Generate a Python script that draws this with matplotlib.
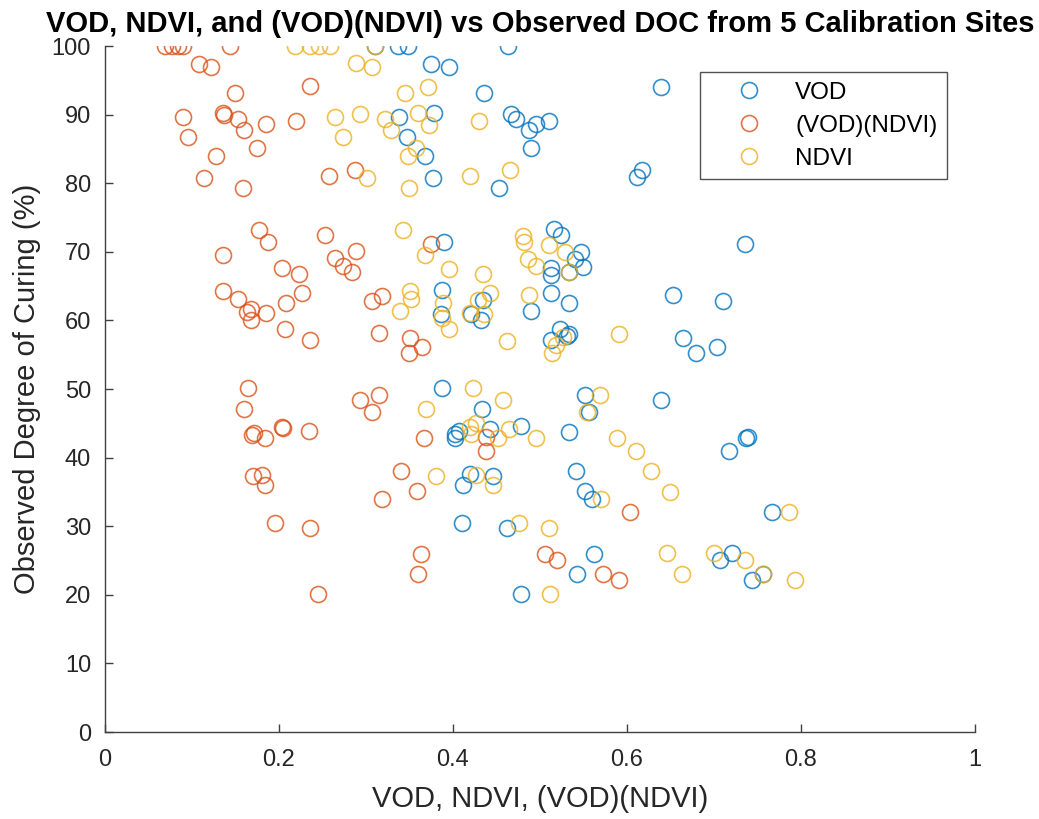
import matplotlib
matplotlib.use("Agg")
import matplotlib.pyplot as plt

# VOD (blue)
vod_x = [0.311, 0.337, 0.348, 0.463, 0.375, 0.395, 0.639, 0.436, 0.338, 0.378,
         0.467, 0.473, 0.487, 0.496, 0.511, 0.347, 0.490, 0.368, 0.377, 0.453,
         0.617, 0.612, 0.390, 0.516, 0.524, 0.736, 0.547, 0.540, 0.549, 0.513,
         0.513, 0.533, 0.388, 0.513, 0.653, 0.711, 0.534, 0.435, 0.421, 0.386,
         0.432, 0.490, 0.513, 0.523, 0.531, 0.534, 0.665, 0.679, 0.704, 0.387,
         0.434, 0.552, 0.556, 0.639, 0.402, 0.407, 0.402, 0.443, 0.478, 0.533,
         0.739, 0.737, 0.717, 0.420, 0.412, 0.446, 0.541, 0.552, 0.560, 0.767,
         0.411, 0.462, 0.562, 0.721, 0.707, 0.543, 0.757, 0.478, 0.744]
vod_y = [100, 100, 100, 100, 97.4, 96.9, 94.1, 93.1, 89.6, 90.2,
         90.1, 89.3, 87.8, 88.6, 89.1, 86.8, 85.1, 83.9, 80.7, 79.3,
         82.0, 80.9, 71.5, 73.3, 72.5, 71.1, 70.0, 69.0, 67.8, 67.6,
         66.6, 67.0, 64.4, 64.0, 63.7, 62.8, 62.6, 63.0, 61.0, 61.0,
         60.0, 61.4, 57.1, 58.7, 57.8, 58.0, 57.4, 55.2, 56.1, 50.2,
         47.1, 49.1, 46.7, 48.4, 43.4, 43.9, 42.8, 44.2, 44.6, 43.8,
         43.0, 42.9, 41.0, 37.6, 36.0, 37.3, 38.1, 35.1, 33.9, 32.1,
         30.4, 29.8, 26.0, 26.1, 25.1, 23.1, 23.1, 20.1, 22.1]

# (VOD)(NDVI) (orange)
prod_x = [0.069, 0.077, 0.084, 0.090, 0.144, 0.108, 0.122, 0.236, 0.149, 0.090,
          0.136, 0.137, 0.153, 0.160, 0.185, 0.220, 0.095, 0.175, 0.128, 0.257,
          0.287, 0.114, 0.159, 0.177, 0.188, 0.253, 0.375, 0.136, 0.264, 0.289,
          0.274, 0.284, 0.203, 0.223, 0.136, 0.153, 0.208, 0.227, 0.307, 0.318,
          0.163, 0.168, 0.168, 0.185, 0.207, 0.236, 0.315, 0.351, 0.365, 0.350,
          0.164, 0.160, 0.293, 0.315, 0.307, 0.171, 0.169, 0.184, 0.204, 0.205,
          0.234, 0.367, 0.4375, 0.4375, 0.170, 0.181, 0.184, 0.340, 0.359, 0.319,
          0.196, 0.236, 0.604, 0.363, 0.360, 0.506, 0.520, 0.573, 0.591, 0.245]
prod_y = [100, 100, 100, 100, 100, 97.4, 96.9, 94.2, 93.2, 89.6,
          90.2, 90.0, 89.4, 87.8, 88.6, 89.1, 86.8, 85.1, 83.9, 81.1,
          82.0, 80.7, 79.3, 73.2, 71.5, 72.4, 71.2, 69.5, 69.1, 70.1,
          67.9, 67.0, 67.6, 66.8, 64.3, 63.1, 62.6, 64.0, 62.8, 63.6,
          61.3, 61.6, 60.1, 61.1, 58.7, 57.1, 58.1, 57.4, 56.1, 55.2,
          50.1, 47.1, 48.4, 49.1, 46.6, 43.6, 43.3, 42.9, 44.5, 44.3,
          43.9, 42.9, 43.0, 41.0, 37.3, 37.5, 36.0, 38.1, 35.1, 34.0,
          30.4, 29.8, 32.1, 26.0, 23.1, 26.0, 25.1, 23.1, 22.1, 20.1]

# NDVI (yellow)
ndvi_x = [0.218, 0.236, 0.246, 0.259, 0.311, 0.289, 0.307, 0.345, 0.371, 0.293,
          0.264, 0.322, 0.329, 0.360, 0.372, 0.274, 0.357, 0.348, 0.430, 0.466,
          0.420, 0.301, 0.350, 0.343, 0.368, 0.395, 0.435, 0.481, 0.482, 0.510,
          0.529, 0.486, 0.496, 0.533, 0.351, 0.352, 0.339, 0.389, 0.388, 0.395,
          0.420, 0.429, 0.436, 0.443, 0.487, 0.462, 0.519, 0.514, 0.527, 0.591,
          0.4226, 0.458, 0.369, 0.420, 0.427, 0.421, 0.452, 0.464, 0.496, 0.569,
          0.554, 0.589, 0.610, 0.628, 0.649, 0.570, 0.380, 0.427, 0.446, 0.476,
          0.510, 0.786, 0.646, 0.663, 0.700, 0.736, 0.757, 0.793, 0.512]
ndvi_y = [100, 100, 100, 100, 100, 97.5, 97.0, 93.2, 94.1, 90.1,
          89.6, 89.4, 87.8, 90.2, 88.5, 86.7, 85.1, 83.9, 89.1, 82.0,
          81.1, 80.7, 79.3, 73.2, 69.5, 67.5, 66.8, 72.3, 71.4, 71.0,
          70.0, 69.0, 67.9, 67.0, 64.3, 63.1, 61.4, 62.6, 60.4, 58.7,
          61.1, 63.0, 61.0, 64.0, 63.7, 57.0, 56.4, 55.2, 57.6, 58.0,
          50.1, 48.4, 47.1, 44.5, 45.0, 43.5, 42.8, 44.2, 42.9, 49.1,
          46.6, 42.9, 41.0, 38.0, 35.0, 33.9, 37.3, 37.5, 36.0, 30.4,
          29.8, 32.1, 26.1, 23.1, 26.1, 25.1, 23.1, 22.1, 20.1]

x_ticks = [0, 0.2, 0.4, 0.6, 0.8, 1]
x_tick_labels = ["0", "0.2", "0.4", "0.6", "0.8", "1"]
y_ticks = list(range(0, 101, 10))

plt.rcParams['font.family'] = ['Liberation Sans', 'DejaVu Sans']

fig = plt.figure(figsize=(10.39, 8.19), dpi=100)
ax = fig.add_axes([0.101, 0.1062, 0.8373, 0.8376])

marker_style = dict(marker='o', linestyle='none', markersize=11.5,
                    markerfacecolor='none', markeredgewidth=1.2, alpha=0.8)
ax.plot(vod_x, vod_y, color='#0072BD', label='VOD', **marker_style)
ax.plot(prod_x, prod_y, color='#D95319', label='(VOD)(NDVI)', **marker_style)
ax.plot(ndvi_x, ndvi_y, color='#EDB120', label='NDVI', **marker_style)

ax.set_xlim(0, 1)
ax.set_ylim(0, 100)
ax.set_xticks(x_ticks)
ax.set_xticklabels(x_tick_labels)
ax.set_yticks(y_ticks)

for side in ['top', 'right']:
    ax.spines[side].set_visible(False)
for side in ['left', 'bottom']:
    ax.spines[side].set_color('#404040')
    ax.spines[side].set_linewidth(1.0)
ax.tick_params(direction='in', length=6, width=1.0, colors='#404040',
               labelcolor='#262626', labelsize=17)
ax.tick_params(axis='x', pad=12)
ax.tick_params(axis='y', pad=10)

ax.set_xlabel('VOD, NDVI, (VOD)(NDVI)', fontsize=21, color='#262626', labelpad=10)
ax.set_ylabel('Observed Degree of Curing (%)', fontsize=21, color='#262626', labelpad=8)
ax.set_title('VOD, NDVI, and (VOD)(NDVI) vs Observed DOC from 5 Calibration Sites',
             fontsize=21, fontweight='bold', color='black', pad=10)

leg = ax.legend(loc='upper right', bbox_to_anchor=(0.968, 0.962), fontsize=17.5,
                frameon=True, fancybox=False, edgecolor='#262626',
                borderpad=0.4, handletextpad=0.3, labelspacing=0.45,
                handlelength=3.2, borderaxespad=0)
leg.get_frame().set_linewidth(1.0)
for h in leg.legend_handles:
    h.set_alpha(0.8)

fig.savefig('out.png', dpi=100)
